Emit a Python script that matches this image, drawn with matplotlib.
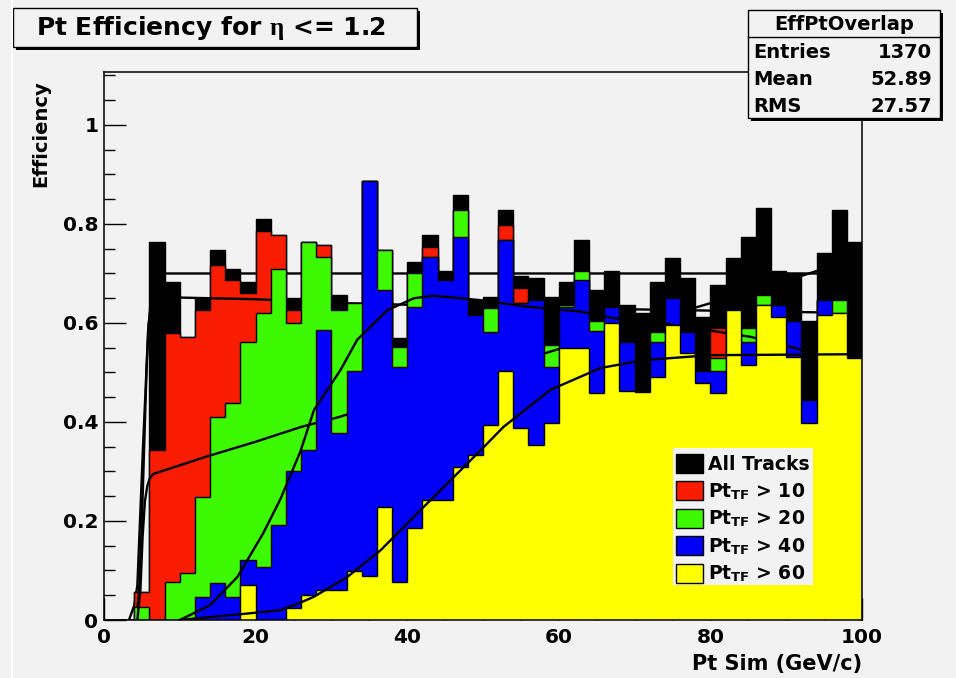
import numpy as np
import matplotlib
matplotlib.use("Agg")
import matplotlib.pyplot as plt
from matplotlib.patches import Rectangle
from matplotlib.ticker import MultipleLocator

plt.rcParams['font.family'] = ['DejaVu Sans']
plt.rcParams['font.weight'] = 'bold'
plt.rcParams['mathtext.fontset'] = 'custom'
plt.rcParams['mathtext.rm'] = 'DejaVu Sans:bold'
plt.rcParams['mathtext.bf'] = 'DejaVu Sans:bold'
plt.rcParams['mathtext.it'] = 'Liberation Serif'

# 50 bins of 2 GeV/c from 0 to 100
bin_edges = np.arange(0, 101, 2)

eff_all = [0, 0, 0.057, 0.764, 0.683, 0.572, 0.65, 0.747, 0.71, 0.683,
           0.811, 0.778, 0.65, 0.764, 0.758, 0.657, 0.64, 0.886, 0.747, 0.569,
           0.724, 0.778, 0.704, 0.859, 0.646, 0.653, 0.828, 0.694, 0.69, 0.653,
           0.683, 0.768, 0.667, 0.704, 0.636, 0.62, 0.683, 0.731, 0.69, 0.613,
           0.677, 0.731, 0.774, 0.832, 0.704, 0.70, 0.603, 0.741, 0.828, 0.764]
eff_10 = [0, 0, 0.057, 0.343, 0.579, 0.572, 0.626, 0.717, 0.687, 0.66,
          0.785, 0.778, 0.626, 0.764, 0.758, 0.626, 0.64, 0.886, 0.747, 0.552,
          0.70, 0.754, 0.687, 0.828, 0.616, 0.63, 0.798, 0.67, 0.646, 0.556,
          0.636, 0.704, 0.603, 0.632, 0.562, 0.461, 0.582, 0.65, 0.582, 0.502,
          0.589, 0.626, 0.589, 0.657, 0.636, 0.603, 0.444, 0.646, 0.646, 0.529]
eff_20 = [0, 0, 0.027, 0, 0.077, 0.094, 0.249, 0.411, 0.438, 0.562,
          0.62, 0.71, 0.60, 0.764, 0.734, 0.626, 0.64, 0.886, 0.747, 0.552,
          0.70, 0.734, 0.687, 0.828, 0.616, 0.63, 0.768, 0.64, 0.646, 0.556,
          0.636, 0.704, 0.603, 0.632, 0.562, 0.461, 0.582, 0.65, 0.582, 0.502,
          0.529, 0.626, 0.589, 0.657, 0.636, 0.603, 0.444, 0.646, 0.646, 0.529]
eff_40 = [0, 0, 0, 0, 0, 0, 0.047, 0.074, 0.047, 0.121,
          0.108, 0.192, 0.30, 0.343, 0.586, 0.377, 0.502, 0.886, 0.667, 0.512,
          0.633, 0.734, 0.687, 0.774, 0.616, 0.582, 0.768, 0.64, 0.646, 0.512,
          0.633, 0.687, 0.584, 0.632, 0.562, 0.461, 0.562, 0.65, 0.582, 0.502,
          0.502, 0.626, 0.562, 0.636, 0.636, 0.603, 0.444, 0.646, 0.62, 0.529]
eff_60 = [0, 0, 0, 0, 0, 0, 0, 0, 0, 0.071,
          0, 0, 0.024, 0.05, 0.06, 0.06, 0.098, 0.088, 0.229, 0.077,
          0.185, 0.242, 0.242, 0.31, 0.333, 0.394, 0.502, 0.387, 0.354, 0.397,
          0.549, 0.549, 0.458, 0.60, 0.463, 0.461, 0.49, 0.596, 0.539, 0.478,
          0.458, 0.626, 0.515, 0.636, 0.613, 0.532, 0.397, 0.616, 0.62, 0.529]

# fitted turn-on curves
fit_all_x = [3.3, 4.0, 4.4, 4.8, 5.2, 5.5, 5.8, 6.2, 6.6, 7.0, 7.6, 100]
fit_all_y = [0.0, 0.03, 0.07, 0.22, 0.37, 0.47, 0.58, 0.65, 0.685, 0.697, 0.70, 0.70]
fit_10_x = [4.2, 4.6, 5.0, 5.3, 5.6, 5.9, 6.3, 7.0, 8.0, 20, 31, 60, 100]
fit_10_y = [0.0, 0.05, 0.2, 0.35, 0.5, 0.6, 0.64, 0.65, 0.652, 0.648, 0.64, 0.63, 0.62]
fit_20_x = [4.4, 4.8, 5.1, 5.4, 5.7, 6.0, 6.5, 7.5, 13.5, 20, 26, 31, 50, 70, 80, 90, 94, 100]
fit_20_y = [0.0, 0.06, 0.17, 0.24, 0.27, 0.285, 0.295, 0.30, 0.33, 0.36, 0.39, 0.41,
            0.50, 0.595, 0.64, 0.685, 0.705, 0.725]
fit_40_x = [10, 14, 17.6, 21, 23.3, 25.9, 27.7, 31.2, 33.4, 37.4, 40.9, 43.5, 47,
            49.7, 55.8, 62.9, 67.2, 73.4, 76.5, 85.3, 92.3, 100]
fit_40_y = [0.0, 0.03, 0.087, 0.175, 0.245, 0.34, 0.424, 0.505, 0.566, 0.626, 0.650,
            0.655, 0.65, 0.646, 0.633, 0.623, 0.61, 0.60, 0.593, 0.572, 0.545, 0.52]
fit_60_x = [10, 18.9, 23.3, 25.9, 27.7, 32.1, 36.5, 40.9, 45.3, 49.7, 52.7, 58.9,
            65.5, 71.2, 80, 100]
fit_60_y = [0.0, 0.013, 0.02, 0.035, 0.047, 0.087, 0.141, 0.209, 0.276, 0.343, 0.39,
            0.465, 0.509, 0.525, 0.535, 0.537]

labels = ["All Tracks", r"Pt$_{\mathrm{TF}}$ > 10", r"Pt$_{\mathrm{TF}}$ > 20",
          r"Pt$_{\mathrm{TF}}$ > 40", r"Pt$_{\mathrm{TF}}$ > 60"]
colors = ["#000000", "#f81c00", "#3cf800", "#0000f8", "#ffff00"]

W, H = 956, 678
bg = "#f2f2f2"

def fx(p):
    return p / W

def fy(p):
    return 1 - p / H

fig = plt.figure(figsize=(W / 100, H / 100), dpi=100, facecolor=bg)
ax = fig.add_axes([fx(104), fy(620), (862 - 104) / W, (620 - 72) / H])
ax.set_facecolor(bg)

series = [(eff_all, fit_all_x, fit_all_y), (eff_10, fit_10_x, fit_10_y),
          (eff_20, fit_20_x, fit_20_y), (eff_40, fit_40_x, fit_40_y),
          (eff_60, fit_60_x, fit_60_y)]
for i, (vals, fx_, fy_) in enumerate(series):
    z = 2 + i * 0.2
    ax.stairs(vals, bin_edges, fill=True, color=colors[i], lw=0, zorder=z)
    ax.stairs(vals, bin_edges, color="black", lw=1.0, zorder=z + 0.01)
    ax.plot(fx_, fy_, color="black", lw=1.7, zorder=z + 0.1)

ax.set_xlim(0, 100)
ax.set_ylim(0, 1.107)
ax.set_xticks([0, 20, 40, 60, 80, 100])
ax.set_xticklabels(["0", "20", "40", "60", "80", "100"])
ax.set_yticks([0, 0.2, 0.4, 0.6, 0.8, 1.0])
ax.set_yticklabels(["0", "0.2", "0.4", "0.6", "0.8", "1"])
ax.xaxis.set_minor_locator(MultipleLocator(5))
ax.yaxis.set_minor_locator(MultipleLocator(0.05))
ax.set_axisbelow(True)
ax.tick_params(which="major", direction="in", length=16, width=1.0, labelsize=14.5)
ax.tick_params(which="minor", direction="in", length=8, width=1.0)
ax.tick_params(axis="y", pad=4)
ax.tick_params(axis="x", pad=6)
for sp in ax.spines.values():
    sp.set_zorder(6)
    sp.set_linewidth(1.1)

# axis titles
fig.text(fx(41), fy(80), "Efficiency", rotation=90, ha="center", va="top", fontsize=14)
fig.text(fx(862), fy(664), "Pt Sim (GeV/c)", ha="right", va="center", fontsize=15)

# canvas border line on the left
fig.add_artist(plt.Line2D([fx(12), fx(12)], [0, 1], color="white", lw=1.5))

# title pave
fig.add_artist(Rectangle((fx(16), fy(50)), (417 - 13) / W, 39 / H, facecolor="black",
                         edgecolor="none", transform=fig.transFigure))
fig.add_artist(Rectangle((fx(13), fy(47)), (417 - 13) / W, 39 / H, facecolor=bg,
                         edgecolor="black", lw=1, transform=fig.transFigure))
fig.text(fx(211), fy(28), r"Pt Efficiency for $\eta$ <= 1.2", ha="center", va="center",
         fontsize=18)

# stats box
fig.add_artist(Rectangle((fx(751), fy(121)), (940 - 748) / W, (118 - 10) / H,
                         facecolor="black", edgecolor="none", transform=fig.transFigure))
fig.add_artist(Rectangle((fx(748), fy(118)), (940 - 748) / W, (118 - 10) / H,
                         facecolor=bg, edgecolor="black", lw=1, transform=fig.transFigure))
fig.add_artist(plt.Line2D([fx(748), fx(940)], [fy(37), fy(37)], color="black", lw=1))
fig.text(fx(844), fy(24), "EffPtOverlap", ha="center", va="center", fontsize=14)
stat_names = ["Entries", "Mean", "RMS"]
stat_vals = ["1370", "52.89", "27.57"]
for i, (n, v) in enumerate(zip(stat_names, stat_vals)):
    yy = fy(52 + 27.5 * i)
    fig.text(fx(753), yy, n, ha="left", va="center", fontsize=14)
    fig.text(fx(932), yy, v, ha="right", va="center", fontsize=14)

# legend
fig.add_artist(Rectangle((fx(673), fy(585)), (813 - 673) / W, (585 - 448) / H,
                         facecolor=bg, edgecolor="none", transform=fig.transFigure, zorder=8))
for i, lab in enumerate(labels):
    yc = 463 + 27.5 * i
    fig.add_artist(Rectangle((fx(676), fy(yc + 9.5)), 27 / W, 19 / H, facecolor=colors[i],
                             edgecolor="black", lw=1, transform=fig.transFigure, zorder=9))
    fig.text(fx(708), fy(yc + 1), lab, ha="left", va="center", fontsize=13.5, zorder=9)

fig.savefig("out.png", dpi=100, facecolor=bg)
